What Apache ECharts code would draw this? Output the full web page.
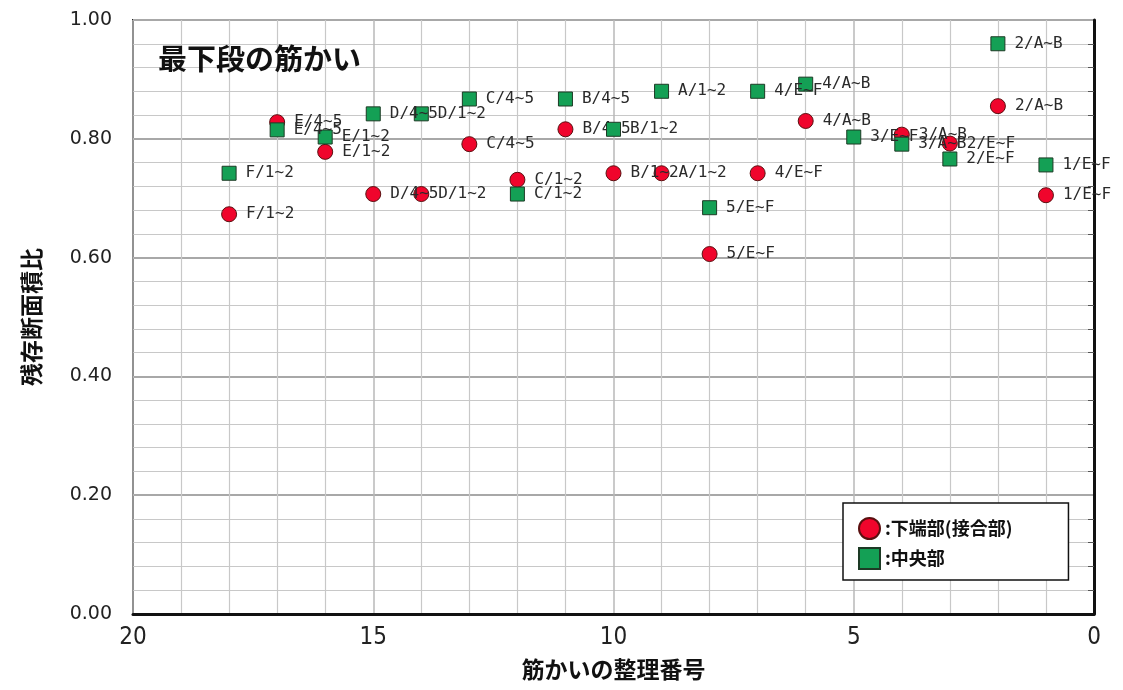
<!DOCTYPE html>
<html>
<head>
<meta charset="utf-8">
<script src="https://cdn.jsdelivr.net/npm/echarts@6/dist/echarts.min.js"></script>
<style>html,body{margin:0;padding:0;background:#fff}#c{width:1123px;height:690px}</style>
</head>
<body>
<div id="c"></div>
<script>
// brace numbers (x positions) and their labels
const braceNo = [18, 17, 16, 15, 14, 13, 12, 11, 10, 9, 8, 7, 6, 5, 4, 3, 2, 1];
const braceLabels = ['F/1~2','E/4~5','E/1~2','D/4~5','D/1~2','C/4~5','C/1~2','B/4~5','B/1~2','A/1~2','5/E~F','4/E~F','4/A~B','3/E~F','3/A~B','2/E~F','2/A~B','1/E~F'];
// 下端部(接合部)
const bottomValues = [0.673, 0.828, 0.778, 0.707, 0.707, 0.791, 0.731, 0.816, 0.742, 0.742, 0.606, 0.742, 0.830, null, 0.807, 0.792, 0.855, 0.705];
// 中央部
const centerValues = [0.742, 0.815, 0.803, 0.842, 0.842, 0.867, 0.707, 0.867, 0.816, 0.880, 0.684, 0.880, 0.892, 0.803, 0.791, 0.766, 0.960, 0.756];
const yTicks = [0, 0.2, 0.4, 0.6, 0.8, 1.0];
const xTicks = [0, 5, 10, 15, 20];

function build(vals) {
  const out = [];
  braceNo.forEach((x, i) => {
    if (vals[i] != null) out.push({ value: [x, vals[i]], name: braceLabels[i] });
  });
  return out;
}

const labelStyle = {
  show: true, position: 'right', distance: 9,
  formatter: p => p.name,
  fontFamily: 'DejaVu Sans Mono', fontSize: 16, color: '#2a2a2a'
};

const chart = echarts.init(document.getElementById('c'), null, { renderer: 'canvas' });
chart.setOption({
  backgroundColor: '#fff',
  animation: false,
  title: {
    text: '最下段の筋かい', left: 153, top: 39,
    textStyle: { fontFamily: 'Noto Sans CJK JP', fontWeight: 'bold', fontSize: 29, color: '#111' }
  },
  legend: {
    orient: 'vertical', left: 843, top: 503,
    padding: [14, 56, 10, 15],
    backgroundColor: '#fff', borderColor: '#111', borderWidth: 1.5,
    itemWidth: 21, itemHeight: 21, itemGap: 7, itemTextGap: 7,
    textStyle: { fontFamily: 'Noto Sans CJK JP', fontWeight: 'bold', fontSize: 18, color: '#111' },
    data: [
      { name: ':下端部(接合部)', icon: 'circle' },
      { name: ':中央部', icon: 'rect' }
    ]
  },
  grid: { left: 133, right: 29, top: 20, bottom: 76, show: true, borderColor: '#222', borderWidth: 2 },
  xAxis: {
    type: 'value', min: 0, max: 20, interval: 5, inverse: true,
    name: '筋かいの整理番号', nameLocation: 'middle', nameGap: 44,
    nameTextStyle: { fontFamily: 'Noto Sans CJK JP', fontWeight: 'bold', fontSize: 23, color: '#111' },
    axisLine: { show: true, onZero: false, lineStyle: { color: '#111', width: 3 } },
    axisTick: { show: false },
    axisLabel: { fontFamily: 'DejaVu Sans Condensed, Liberation Sans, sans-serif', fontSize: 24, color: '#222', margin: 12,
      formatter: v => xTicks.includes(v) ? String(v) : '' },
    splitLine: { show: true, lineStyle: { color: '#b8b8b8', width: 1.5 } },
    minorTick: { show: false, splitNumber: 5 },
    minorSplitLine: { show: true, lineStyle: { color: '#c8c8c8', width: 1.2 } }
  },
  yAxis: {
    type: 'value', min: 0, max: 1, interval: 0.2,
    name: '残存断面積比', nameLocation: 'middle', nameGap: 90, nameRotate: 90,
    nameTextStyle: { fontFamily: 'Noto Sans CJK JP', fontWeight: 'bold', fontSize: 23, color: '#111' },
    axisLine: { show: true, lineStyle: { color: '#111', width: 3 } },
    axisTick: { show: false },
    axisLabel: { fontFamily: 'DejaVu Sans', fontSize: 19, color: '#222', margin: 21,
      formatter: v => yTicks.some(t => Math.abs(t - v) < 1e-9) ? v.toFixed(2) : '' },
    splitLine: { show: true, lineStyle: { color: '#a8a8a8', width: 1.8 } },
    minorTick: { show: true, splitNumber: 5, length: 6, lineStyle: { color: '#555' } },
    minorSplitLine: { show: true, lineStyle: { color: '#c8c8c8', width: 1.2 } }
  },
  series: [
    {
      name: ':下端部(接合部)', type: 'scatter', symbol: 'circle', symbolSize: 15,
      itemStyle: { color: '#f0052c', borderColor: '#5a1010', borderWidth: 1, opacity: 1 },
      label: labelStyle,
      data: build(bottomValues), z: 2
    },
    {
      name: ':中央部', type: 'scatter', symbol: 'rect', symbolSize: 14,
      itemStyle: { color: '#14a055', borderColor: '#1d3a25', borderWidth: 1, opacity: 1 },
      label: labelStyle,
      data: build(centerValues), z: 3
    }
  ]
});
</script>
</body>
</html>
